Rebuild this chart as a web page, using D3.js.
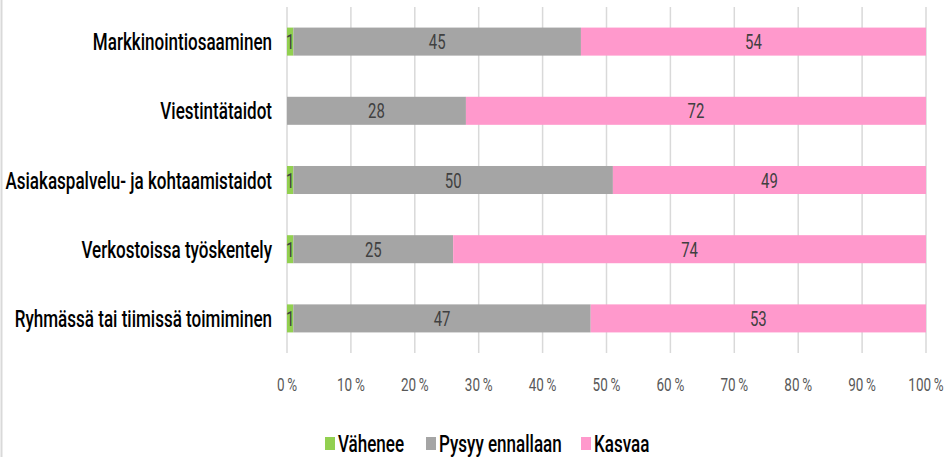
<!DOCTYPE html>
<html>
<head>
<meta charset="utf-8">
<script src="https://cdn.jsdelivr.net/npm/d3@7"></script>
<style>
    body { margin: 0; background: #fff; }
    text { font-family: "Roboto", "Liberation Sans", sans-serif; }
</style>
</head>
<body>
<div id="chart"></div>
<script>
const categories = [
    "Markkinointiosaaminen",
    "Viestintätaidot",
    "Asiakaspalvelu- ja kohtaamistaidot",
    "Verkostoissa työskentely",
    "Ryhmässä tai tiimissä toimiminen"
];
const seriesNames = ["Vähenee", "Pysyy ennallaan", "Kasvaa"];
const vahenee = [1, 0, 1, 1, 1];
const pysyy = [45, 28, 50, 25, 47];
const kasvaa = [54, 72, 49, 74, 53];
const tickValues = [0, 0.1, 0.2, 0.3, 0.4, 0.5, 0.6, 0.7, 0.8, 0.9, 1];
const colors = ["#92d050", "#a5a5a5", "#ff99cc"];

const width = 948, height = 457;
const margin = { top: 7, right: 22, bottom: 104, left: 287 };
// the original text is tall and narrow (Calibri, squeezed)
const squeeze = 0.71;

const svg = d3.select("#chart").append("svg")
    .attr("width", width)
    .attr("height", height);

// places a text at (x, y) squeezed horizontally
function place(sel, fx, fy) {
    sel.attr("transform", (d, i) => `translate(${fx(d, i)},${fy(d, i)}) scale(${squeeze},1)`);
}

// outer chart border on the left
svg.append("line")
    .attr("x1", 1.5).attr("x2", 1.5)
    .attr("y1", 0).attr("y2", height)
    .attr("stroke", "#d9d9d9")
    .attr("stroke-width", 2);

const x = d3.scaleLinear()
    .domain([0, 1])
    .range([margin.left, width - margin.right]);

const y = d3.scaleBand()
    .domain(categories)
    .range([margin.top, height - margin.bottom])
    .paddingInner(0.595)
    .paddingOuter(0.2975);

const rows = categories.map((c, i) => ({ name: c, values: [vahenee[i], pysyy[i], kasvaa[i]] }));
// 100 % stacked, like the original
const stacked = d3.stack()
    .keys([0, 1, 2])
    .value((d, k) => d.values[k])
    .offset(d3.stackOffsetExpand)(rows);

// gridlines
svg.append("g")
    .selectAll("line")
    .data(tickValues)
    .join("line")
        .attr("x1", d => x(d)).attr("x2", d => x(d))
        .attr("y1", margin.top).attr("y2", height - margin.bottom)
        .attr("stroke", "#d9d9d9")
        .attr("stroke-width", 1.5);

// bars
const layers = svg.append("g")
    .selectAll("g")
    .data(stacked)
    .join("g")
        .attr("fill", (d, i) => colors[i]);

layers.selectAll("rect")
    .data(d => d)
    .join("rect")
        .attr("x", d => x(d[0]))
        .attr("y", d => y(d.data.name))
        .attr("width", d => x(d[1]) - x(d[0]))
        .attr("height", y.bandwidth());

// data labels
layers.each(function (layer) {
    d3.select(this).selectAll("text")
        .data(layer.filter(s => s.data.values[layer.key] > 0))
        .join("text")
            .attr("dy", "0.36em")
            .attr("text-anchor", "middle")
            .attr("fill", "#404040")
            .attr("font-size", 21)
            .text(d => d.data.values[layer.key])
            .call(place, d => (x(d[0]) + x(d[1])) / 2, d => y(d.data.name) + y.bandwidth() / 2);
});

// category labels
svg.append("g")
    .selectAll("text")
    .data(categories)
    .join("text")
        .attr("dy", "0.36em")
        .attr("text-anchor", "end")
        .attr("fill", "#000")
        .attr("font-size", 24)
        .attr("font-weight", 500)
        .text(d => d)
        .call(place, () => margin.left - 15, d => y(d) + y.bandwidth() / 2);

// x tick labels
svg.append("g")
    .selectAll("text")
    .data(tickValues)
    .join("text")
        .attr("dy", "0.36em")
        .attr("text-anchor", "middle")
        .attr("fill", "#595959")
        .attr("font-size", 19)
        .text(d => Math.round(d * 100) + "\u2009%")
        .call(place, d => x(d), () => 384);

// legend
const legendX = [325, 426, 581];
const legend = svg.append("g")
    .selectAll("g")
    .data(seriesNames)
    .join("g")
        .attr("transform", (d, i) => `translate(${legendX[i]},443)`);

legend.append("rect")
    .attr("x", 0).attr("y", -6)
    .attr("width", 10).attr("height", 13)
    .attr("fill", (d, i) => colors[i]);

legend.append("text")
    .attr("dy", "0.36em")
    .attr("fill", "#000")
    .attr("font-size", 24)
    .attr("font-weight", 500)
    .text(d => d)
    .call(place, () => 13, () => 0);
</script>
</body>
</html>
